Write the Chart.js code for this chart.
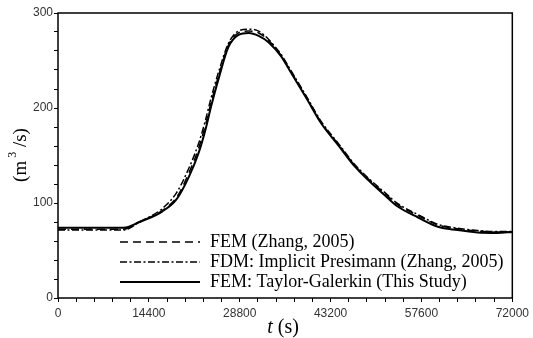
<!DOCTYPE html>
<html>
<head>
<meta charset="utf-8">
<script src="https://cdn.jsdelivr.net/npm/chart.js@4/dist/chart.umd.min.js"></script>
<style>
  body { margin: 0; background: #fff; }
  #wrap { width: 533px; height: 338px; }
</style>
</head>
<body>
<div id="wrap"><canvas id="hydrograph"></canvas></div>
<script>
// time (s) and discharge (m3/s)
var times = [0, 10400, 12900, 16500, 18800, 20700, 22300, 23400, 24200, 25500, 27000, 28600, 30200, 31800, 33400, 35400, 36500, 39400, 41700, 44400, 47100, 52300, 53900, 57000, 60200, 63300, 66500, 69600, 72000];
var femZhang = [72.5, 72.5, 80, 92, 106, 131, 158, 183, 204, 235, 266, 279, 281, 279, 271, 255, 243, 211, 185, 162, 139, 107, 98, 87, 77, 73, 70.5, 69.5, 69.5];
var fdmPreissmann = [71.5, 71.5, 80, 94, 111, 136, 163, 188, 209, 239, 268, 281, 283, 281, 272, 256, 244, 212, 186, 163, 140, 108, 99, 88, 77.5, 73.5, 71, 70, 70];
var femTaylor = [74, 74, 80, 91, 104, 127, 153, 178, 200, 232, 264, 277, 279, 276, 269, 254, 242, 210, 184, 161, 138, 105, 96, 85, 75, 71.5, 69, 68.5, 69.5];

var seriesNames = ['FEM (Zhang, 2005)', 'FDM: Implicit Presimann (Zhang, 2005)', 'FEM: Taylor-Galerkin (This Study)'];
var xLabelTicks = [0, 14400, 28800, 43200, 57600, 72000];
var yLabelTicks = [0, 100, 200, 300];

function pts(vals) {
    return times.map(function (t, i) { return { x: t, y: vals[i] }; });
}

var serif = '"Liberation Serif", "Times New Roman", serif';
var sans = '"Liberation Sans", Arial, sans-serif';

var extras = {
    id: 'extras',
    afterDraw: function (chart) {
        var ctx = chart.ctx, a = chart.chartArea;
        ctx.save();
        // box round the plot
        ctx.strokeStyle = '#000';
        ctx.lineWidth = 1.5;
        ctx.strokeRect(a.left, a.top, a.right - a.left, a.bottom - a.top);

        // legend inside the plot
        ctx.font = '18px ' + serif;
        ctx.textBaseline = 'middle';
        ctx.textAlign = 'left';
        ctx.fillStyle = '#000';
        chart.data.datasets.forEach(function (ds, i) {
            var y = a.top + 229 + i * 20;
            ctx.lineWidth = ds.borderWidth;
            ctx.setLineDash(ds.borderDash || []);
            ctx.beginPath();
            ctx.moveTo(a.left + 62, y);
            ctx.lineTo(a.left + 142, y);
            ctx.stroke();
            ctx.setLineDash([]);
            ctx.fillText(ds.label, a.left + 152, y);
        });

        // x title: italic t
        var cx = 283, ty = 328;
        ctx.font = 'italic 20px ' + serif;
        var w1 = ctx.measureText('t').width;
        ctx.font = '20px ' + serif;
        var w2 = ctx.measureText(' (s)').width;
        var x0 = cx - (w1 + w2) / 2;
        ctx.font = 'italic 20px ' + serif;
        ctx.fillText('t', x0, ty);
        ctx.font = '20px ' + serif;
        ctx.fillText(' (s)', x0 + w1, ty);

        // y title with raised 3
        ctx.translate(21, 155);
        ctx.rotate(-Math.PI / 2);
        ctx.textAlign = 'left';
        var p1 = '(m', p3 = ' /s)';
        ctx.font = '19px ' + serif;
        var a1 = ctx.measureText(p1).width, a3 = ctx.measureText(p3).width;
        ctx.font = '12px ' + serif;
        var a2 = ctx.measureText('3').width + 3;
        var sx = -(a1 + a2 + a3) / 2;
        ctx.font = '19px ' + serif;
        ctx.fillText(p1, sx, 0);
        ctx.font = '12px ' + serif;
        ctx.fillText('3', sx + a1 + 3, -8);
        ctx.font = '19px ' + serif;
        ctx.fillText(p3, sx + a1 + a2, 0);
        ctx.restore();
    }
};

var chart1 = document.getElementById('hydrograph');
var myChart1 = new Chart(chart1, {
    type: 'line',
    data: {
        datasets: [{
            label: seriesNames[0],
            data: pts(femZhang),
            borderColor: '#000',
            borderWidth: 1.5,
            borderDash: [8, 5],
            pointRadius: 0,
            fill: false
        }, {
            label: seriesNames[1],
            data: pts(fdmPreissmann),
            borderColor: '#000',
            borderWidth: 1.5,
            borderDash: [7, 2.5, 2, 2.5],
            pointRadius: 0,
            fill: false
        }, {
            label: seriesNames[2],
            data: pts(femTaylor),
            borderColor: '#000',
            borderWidth: 2,
            pointRadius: 0,
            fill: false
        }]
    },
    options: {
        responsive: true,
        maintainAspectRatio: false,
        animation: false,
        cubicInterpolationMode: 'monotone',
        layout: { padding: { top: 13, right: 18, left: 0, bottom: 0 } },
        plugins: {
            legend: { display: false },
            tooltip: { enabled: false }
        },
        scales: {
            x: {
                type: 'linear',
                min: 0,
                max: 72000,
                afterFit: function (s) { s.height = 40; },
                afterBuildTicks: function (s) {
                    var t = [];
                    for (var v = 0; v <= 72000; v += 2880) t.push({ value: v });
                    s.ticks = t;
                },
                border: { display: false },
                grid: { drawOnChartArea: false, drawTicks: true, tickLength: 4, color: '#000' },
                ticks: {
                    autoSkip: false,
                    maxRotation: 0,
                    padding: 4,
                    color: '#333',
                    font: { family: sans, size: 12 },
                    callback: function (v) { return xLabelTicks.indexOf(v) >= 0 ? String(v) : ''; }
                }
            },
            y: {
                min: 0,
                max: 300,
                afterFit: function (s) { s.width = 58; },
                border: { display: false },
                grid: { drawOnChartArea: false, drawTicks: true, tickLength: 4, color: '#000' },
                ticks: {
                    stepSize: 20,
                    autoSkip: false,
                    padding: 1,
                    color: '#333',
                    font: { family: sans, size: 12 },
                    callback: function (v) { return yLabelTicks.indexOf(v) >= 0 ? String(v) : ''; }
                }
            }
        }
    },
    plugins: [extras]
});
</script>
</body>
</html>
